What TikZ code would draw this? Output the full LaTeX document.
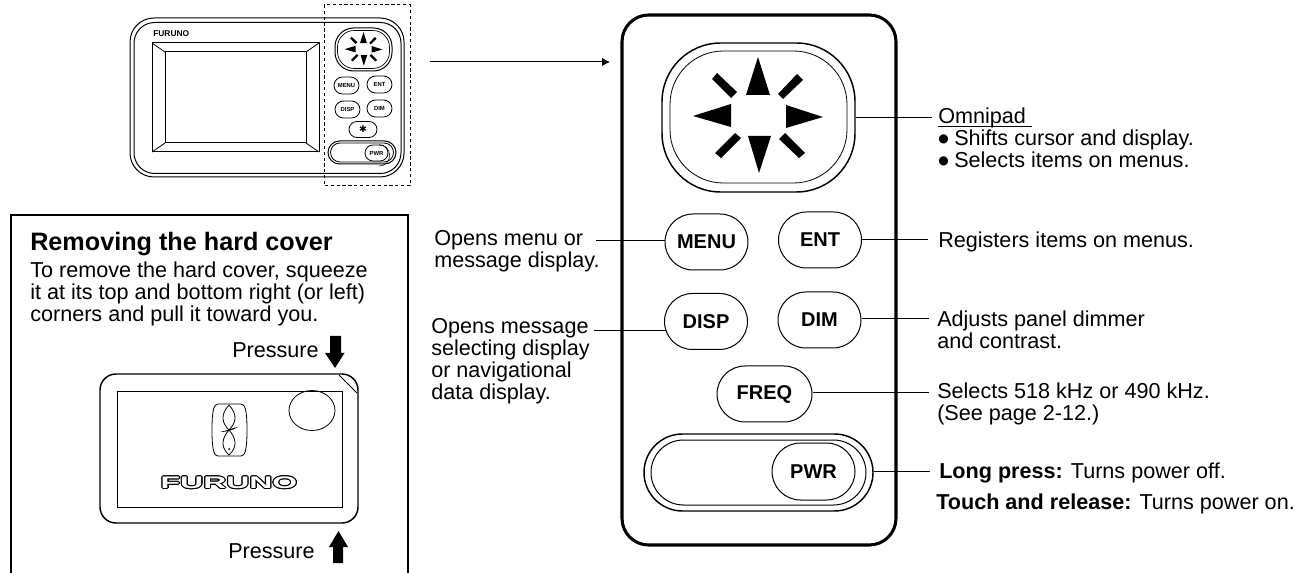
\documentclass[tikz,border=0pt]{standalone}
\usepackage{fontspec}
\setmainfont{Liberation Sans}
\newfontfamily\symfont{DejaVu Sans}
\usepackage{graphicx}
\usepackage{contour}
\usetikzlibrary{arrows.meta,shapes.misc}
\contourlength{0.45pt}
\tikzset{
	keybig/.style={draw,rounded rectangle,inner sep=0pt,line width=0.75pt,minimum width=62.25pt,minimum height=42pt,font=\fontsize{15}{18}\selectfont\bfseries},
	keysmall/.style={draw,rounded rectangle,inner sep=0pt,line width=0.6pt,minimum width=18.75pt,minimum height=12.75pt,font=\fontsize{4.4}{5}\selectfont\bfseries},
	note/.style={anchor=base west,inner sep=0pt,align=left,font=\fontsize{16.2}{16.5}\selectfont},
	leader/.style={line width=0.75pt},
	plate/.style={draw,inner sep=0pt},
}
\newcommand{\padmarks}[2]{
	\begin{scope}[shift={(#1)},scale=#2]
		\fill (0,-60) -- (-12,-22) -- (12,-22) -- cycle;
		\fill (1,56) -- (-10,19) -- (13,19) -- cycle;
		\fill (-65,-1) -- (-27,-13) -- (-27,10) -- cycle;
		\fill (65,0) -- (28,-12) -- (28,11) -- cycle;
		\fill (-46,-38) -- (-41,-44) -- (-21,-25) -- (-27,-19) -- cycle;
		\fill (20,-23) -- (39,-43) -- (45,-37) -- (25,-18) -- cycle;
		\fill (-43,36) -- (-23,16) -- (-17,21) -- (-37,41) -- cycle;
		\fill (21,22) -- (27,16) -- (47,36) -- (41,41) -- cycle;
	\end{scope}
}
\newcommand{\padbullet}{\makebox[12pt][l]{\raisebox{2.4pt}{\fontsize{9}{9}\symfont ●}}}
\begin{document}
\begin{tikzpicture}[x=0.75pt,y=-0.75pt]
	\useasboundingbox (0,0) rectangle (1310,573);

	%small unit
	\node[plate,rounded corners=18pt,line width=0.75pt,minimum width=205.5pt,minimum height=119.25pt] (unitout) at (267,97.5) {};
	\node[plate,rounded corners=15.5pt,line width=0.75pt,minimum width=200.25pt,minimum height=113.25pt] (unitin) at (267.5,98) {};
	\draw[line width=0.75pt] (152,43) rectangle (319,152);
	\draw[line width=0.75pt] (165,52) rectangle (306,143);
	\draw[line width=0.6pt] (152,43) -- (165,52) (319,43) -- (306,52) (152,152) -- (165,143) (319,152) -- (306,143);
	\node[anchor=base west,inner sep=0pt,font=\fontsize{6.3}{7}\selectfont\bfseries] (brand) at (153,37) {FURUNO};
	\node[plate,rounded corners=14pt,line width=0.75pt,minimum width=42.75pt,minimum height=32.25pt] (padsout) at (363.5,49.5) {};
	\node[plate,rounded corners=12.5pt,line width=0.5pt,minimum width=39pt,minimum height=28.5pt] (padsin) at (363.5,49.5) {};
	\padmarks{363.5,49.5}{0.29}
	\node[keysmall] (menus) at (346.5,85.5) {MENU};
	\node[keysmall] (ents) at (379.5,84.5) {ENT};
	\node[keysmall] (disps) at (347.5,109.5) {DISP};
	\node[keysmall] (dims) at (379.5,108.5) {DIM};
	\node[keysmall,minimum width=21pt,minimum height=12pt,font=\fontsize{7}{8}\symfont] (stars) at (363,129.5) {✱};
	\node[keysmall,minimum width=51pt,minimum height=17.25pt,line width=0.75pt] (pwrsout) at (362,152.5) {};
	\node[keysmall,minimum width=47.25pt,minimum height=14.25pt] (pwrsin) at (362,152.5) {};
	\node[keysmall,minimum width=21pt,minimum height=12pt,line width=0.4pt,draw=none] (pwrsbase) at (379,153) {};
	\node[keysmall,minimum width=17.25pt,minimum height=12pt] (pwrs) at (376.5,153) {PWR};
	\draw[line width=0.4pt] (pwrsbase.north) arc[start angle=90,end angle=-90,radius=4.5pt*1.78];
	\draw[line width=0.75pt,dash pattern=on 2.4pt off 2pt] (324,5) rectangle (410,186);

	\coordinate (arrowfrom) at (430,62);
	\coordinate (arrowto) at (610,62);
	\draw[leader,-{Latex[length=6pt,width=6.4pt]}] (arrowfrom) -- (arrowto);

	%hard cover box
	\draw[line width=1pt] (11,573) -- (11,215) -- (408,215) -- (408,573);
	\node[anchor=base west,inner sep=0pt,font=\fontsize{18.9}{20}\selectfont\bfseries] (covertitle) at (30,251) {Removing the hard cover};
	\node[note] (covertext) at (30,322) {To remove the hard cover, squeeze\\it at its top and bottom right (or left)\\corners and pull it toward you.};
	\node[note] (presstop) at (232,358) {Pressure};
	\node[note] (pressbot) at (228,558) {Pressure};
	\fill (330,336) -- (341,336) -- (341,353) -- (344.5,353) -- (335,368) -- (325,353) -- (330,353) -- cycle;
	\fill (333,563) -- (343,563) -- (343,547) -- (348,547) -- (338.5,531) -- (329,547) -- (333,547) -- cycle;
	\node[plate,rounded corners=12pt,line width=1.1pt,minimum width=193.5pt,minimum height=111.75pt] (cover) at (229,448.5) {};
	\node[plate,line width=0.6pt,minimum width=168.75pt,minimum height=87pt] (window) at (229.5,449) {};
	\draw[line width=0.6pt] (339,375) -- (357,393);
	\draw[line width=0.6pt] (312,410.5) ellipse (23 and 20);
	%logo
	\draw[line width=0.6pt] (218,404) -- (241,404) .. controls (245,404) and (247,410) .. (247,430) .. controls (247,450) and (245,456) .. (241,456) -- (218,456) .. controls (214,456) and (212,450) .. (212,430) .. controls (212,410) and (214,404) .. (218,404) -- cycle;
	\draw[line width=0.6pt] (229,405) .. controls (220,415) and (222,423) .. (229,430) .. controls (236,423) and (238,415) .. (229,405);
	\draw[line width=0.6pt] (229,455) .. controls (220,447) and (222,438) .. (229,430) .. controls (236,438) and (238,447) .. (229,455);
	\fill (220,432) .. controls (226,431) and (232,428) .. (238,427) .. controls (233,430) and (227,432) .. (220,432) -- cycle;
	\fill (229,449) circle (1);
	\node[inner sep=0pt,font=\fontsize{12.6}{14}\selectfont\bfseries] (coverbrand) at (229,483) {\scalebox{1.9}[1]{\contour{black}{\textcolor{white}{FURUNO}}}};

	%large panel
	\node[plate,rounded corners=20pt,line width=2.3pt,minimum width=205.5pt,minimum height=397.5pt] (panel) at (759,280) {};
	\node[plate,rounded corners=44pt,line width=1.1pt,minimum width=144.75pt,minimum height=111.75pt] (pad) at (758.5,117.5) {};
	\node[plate,rounded corners=40pt,line width=0.6pt,minimum width=132.75pt,minimum height=99pt] (padin) at (758.5,117) {};
	\padmarks{758,117}{1}
	\node[keybig] (menu) at (706.5,242) {MENU};
	\node[keybig] (ent) at (820,240) {ENT};
	\node[keybig] (disp) at (706,321.5) {DISP};
	\node[keybig] (dim) at (819.5,320) {DIM};
	\node[keybig,minimum width=71.25pt] (freq) at (764.5,394) {FREQ};
	\node[keybig,minimum width=171.75pt,minimum height=57.75pt,line width=1.1pt] (pwrout) at (758.5,472.5) {};
	\node[keybig,minimum width=161.25pt,minimum height=48.75pt] (pwrin) at (758.5,472.5) {};
	\node[keybig,minimum height=42.75pt] (pwr) at (813.5,471.5) {PWR};

	%notes on the right
	\coordinate (omniend) at (932,118);
	\coordinate (entend) at (928,240);
	\coordinate (dimend) at (929,319);
	\coordinate (freqend) at (929,393);
	\coordinate (pwrend) at (930,471);
	\draw[leader] (pad.east |- omniend) -- (omniend);
	\draw[leader] (ent.east |- entend) -- (entend);
	\draw[leader] (dim.east |- dimend) -- (dimend);
	\draw[leader] (freq.east |- freqend) -- (freqend);
	\draw[leader] (pwrout.east |- pwrend) -- (pwrend);
	\node[note] (omninote) at (938,168) {\underline{\smash{Omnipad\ }}\\\padbullet Shifts cursor and display.\\\padbullet Selects items on menus.};
	\node[note] (entnote) at (938,248) {Registers items on menus.};
	\node[note] (dimnote) at (937,349) {Adjusts panel dimmer\\and contrast.};
	\node[note] (freqnote) at (937,421) {Selects 518 kHz or 490 kHz.\\(See page 2-12.)};
	\node[note] (longnote) at (939,478) {\textbf{Long press:} Turns power off.};
	\node[note] (touchnote) at (936,509) {\textbf{Touch and release:} Turns power on.};

	%notes on the left
	\coordinate (menuend) at (596,241);
	\coordinate (dispend) at (594,331);
	\draw[leader] (menuend) -- (menu.west |- menuend);
	\draw[leader] (dispend) -- (disp.193 |- dispend);
	\node[note] (menunote) at (434,268) {Opens menu or\\message display.};
	\node[note] (dispnote) at (431,400) {Opens message\\selecting display\\or navigational\\data display.};
\end{tikzpicture}
\end{document}
